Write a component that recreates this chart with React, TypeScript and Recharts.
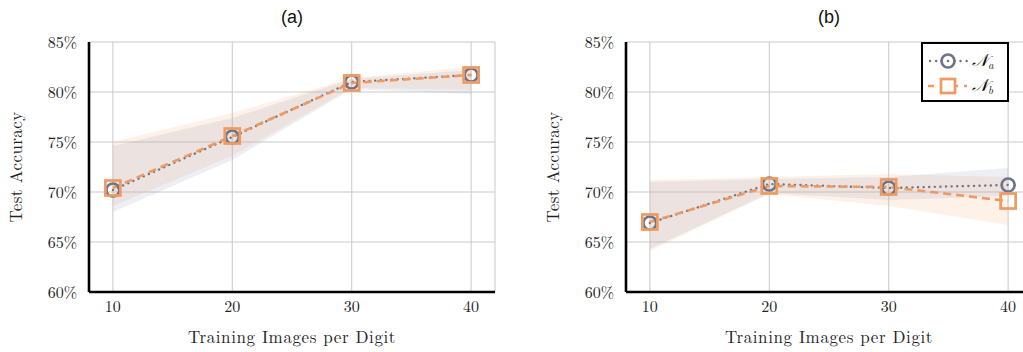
import React from 'react';
import { ComposedChart, Line, Area, XAxis, YAxis, CartesianGrid } from 'recharts';

const xValues = [10, 20, 30, 40];
const yTicks = [60, 65, 70, 75, 80, 85];

const aNaMean = [70.2, 75.5, 81.0, 81.7];
const aNaLow = [68.0, 73.2, 80.3, 79.8];
const aNaHigh = [74.6, 77.4, 81.3, 82.2];
const aNbMean = [70.4, 75.6, 80.9, 81.7];
const aNbLow = [68.6, 73.6, 80.4, 80.2];
const aNbHigh = [75.0, 77.9, 81.4, 82.5];

const bNaMean = [66.9, 70.8, 70.4, 70.7];
const bNaLow = [64.3, 69.9, 69.2, 69.6];
const bNaHigh = [71.0, 71.3, 71.5, 72.4];
const bNbMean = [67.0, 70.6, 70.5, 69.1];
const bNbLow = [64.1, 69.8, 68.6, 66.7];
const bNbHigh = [71.2, 71.5, 71.8, 71.5];

const titles = ['(a)', '(b)'];
const xLabel = 'Training Images per Digit';
const yLabel = 'Test Accuracy';
const seriesNames = ['a', 'b'];

const GRAY = '#6f7486';
const ORANGE = '#ee9a62';
const SERIF = '"Latin Modern Roman", "Liberation Serif", "DejaVu Serif", serif';

function buildRows(naM: number[], naL: number[], naH: number[], nbM: number[], nbL: number[], nbH: number[]) {
  return xValues.map((x, i) => ({
    x,
    na: naM[i],
    nb: nbM[i],
    naBand: [naL[i], naH[i]],
    nbBand: [nbL[i], nbH[i]],
  }));
}

const dataA = buildRows(aNaMean, aNaLow, aNaHigh, aNbMean, aNbLow, aNbHigh);
const dataB = buildRows(bNaMean, bNaLow, bNaHigh, bNbMean, bNbLow, bNbHigh);

const CircleDot = (props: any) => {
  const { cx, cy, index } = props;
  if (cx == null || cy == null) return <g key={`c${index}`} />;
  return <circle key={`c${index}`} cx={cx} cy={cy} r={6.5} fill="none" stroke={GRAY} strokeWidth={2.7} />;
};

const SquareDot = (props: any) => {
  const { cx, cy, index } = props;
  if (cx == null || cy == null) return <g key={`s${index}`} />;
  return <rect key={`s${index}`} x={cx - 7.5} y={cy - 7.5} width={15} height={15} fill="none" stroke={ORANGE} strokeWidth={2.7} />;
};

const YLabel = (props: any) => {
  const vb = props.viewBox || {};
  const x = (vb.x || 0) + 18;
  const y = (vb.y || 0) + (vb.height || 0) / 2;
  return (
    <text x={x} y={y} transform={`rotate(-90 ${x} ${y})`} textAnchor="middle" dominantBaseline="middle"
      style={{ fontFamily: SERIF, fontSize: 17, letterSpacing: 0.4 }} fill="#222">{yLabel}</text>
  );
};

const XLabel = (props: any) => {
  const vb = props.viewBox || {};
  const x = (vb.x || 0) + (vb.width || 0) / 2;
  const y = (vb.y || 0) + 47;
  return (
    <text x={x} y={y} textAnchor="middle" dominantBaseline="middle"
      style={{ fontFamily: SERIF, fontSize: 17, letterSpacing: 0.6 }} fill="#222">{xLabel}</text>
  );
};

const tickStyle = { fill: '#222', fontSize: 16, fontFamily: SERIF };

function Panel({ data, left, title }: { data: any[]; left: number; title: string }) {
  return (
    <div style={{ position: 'absolute', left, top: 0, width: 512, height: 352 }}>
      <div style={{ position: 'absolute', left: 89, width: 406, top: 5, textAlign: 'center', fontFamily: '"Liberation Sans", Arial, sans-serif', fontSize: 18, color: '#111', lineHeight: '24px' }}>{title}</div>
      <ComposedChart width={512} height={352} data={data} margin={{ top: 42, right: 17, bottom: 0, left: 0 }}>
        <CartesianGrid stroke="#c9c9c9" strokeWidth={1} />
        <XAxis dataKey="x" type="number" domain={[8, 42]} ticks={xValues} allowDataOverflow
          height={60} axisLine={{ stroke: '#000', strokeWidth: 2.6 }} tickLine={false} tickSize={3} tickMargin={6}
          tick={tickStyle} label={<XLabel />} />
        <YAxis type="number" domain={[60, 85]} ticks={yTicks} width={89} allowDataOverflow
          axisLine={{ stroke: '#000', strokeWidth: 2.6 }} tickLine={false} tickSize={5} tickMargin={7}
          tickFormatter={(v: number) => `${v}%`}
          tick={tickStyle} label={<YLabel />} />
        <Area dataKey="nbBand" type="linear" stroke="none" fill="#f3b88e" fillOpacity={0.2} isAnimationActive={false} activeDot={false} />
        <Area dataKey="naBand" type="linear" stroke="none" fill="#9aa2bd" fillOpacity={0.17} isAnimationActive={false} activeDot={false} />
        <Line dataKey="na" type="linear" stroke={GRAY} strokeWidth={2.4} strokeDasharray="0.1 5.5" strokeLinecap="round"
          dot={<CircleDot />} activeDot={false} isAnimationActive={false} />
        <Line dataKey="nb" type="linear" stroke={ORANGE} strokeWidth={2.6} strokeDasharray="8 5"
          dot={<SquareDot />} activeDot={false} isAnimationActive={false} />
      </ComposedChart>
    </div>
  );
}

function LegendBox() {
  return (
    <div style={{ position: 'absolute', left: 921, top: 42, width: 88, height: 60, boxSizing: 'border-box', border: '2.6px solid #000', background: '#fff' }}>
      <svg width={84} height={56} style={{ position: 'absolute', left: 0, top: 0 }}>
        <line x1={7} y1={17} x2={44} y2={17} stroke={GRAY} strokeWidth={2.4} strokeDasharray="0.1 6" strokeLinecap="round" />
        <circle cx={25} cy={17} r={6.5} fill="#fff" stroke={GRAY} strokeWidth={2.7} />
        <circle cx={25} cy={17} r={1.3} fill={GRAY} />
        <text x={49} y={22} style={{ fontFamily: SERIF, fontStyle: 'italic', fontSize: 17 }} fill="#111">𝒩<tspan style={{ fontSize: 11 }} dy={3}>{seriesNames[0]}</tspan></text>
        <line x1={5} y1={42} x2={44} y2={42} stroke={ORANGE} strokeWidth={2.6} strokeDasharray="6 6" />
        <rect x={18} y={35} width={14} height={14} fill="#fff" stroke={ORANGE} strokeWidth={2.7} />
        <text x={49} y={47} style={{ fontFamily: SERIF, fontStyle: 'italic', fontSize: 17 }} fill="#111">𝒩<tspan style={{ fontSize: 11 }} dy={3}>{seriesNames[1]}</tspan></text>
      </svg>
    </div>
  );
}

export default function App() {
  return (
    <div style={{ position: 'absolute', left: 0, top: 0, width: 1023, height: 352, overflow: 'hidden', background: '#fff' }}>
      <Panel data={dataA} left={0} title={titles[0]} />
      <Panel data={dataB} left={537} title={titles[1]} />
      <LegendBox />
    </div>
  );
}
